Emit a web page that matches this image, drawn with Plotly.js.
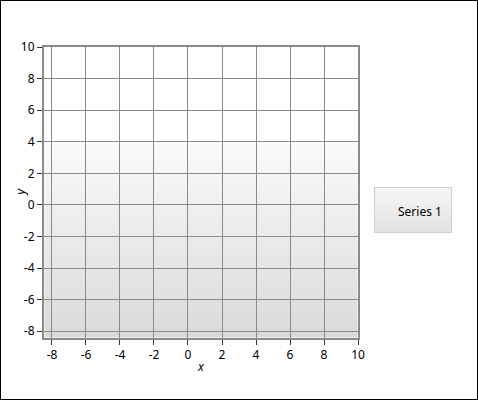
<!DOCTYPE html>
<html><head><meta charset="utf-8">
<script src="https://cdn.plot.ly/plotly-3.0.1.min.js"></script>
<style>
html,body{margin:0;padding:0;background:#fff;}
#wrap{position:relative;width:478px;height:400px;}
#chart{width:478px;height:400px;}
#frame{position:absolute;left:0;top:0;width:478px;height:400px;box-sizing:border-box;border:1px solid #000;pointer-events:none;}
</style></head>
<body>
<div id="wrap"><div id="chart"></div><div id="frame"></div></div>
<script>
// Data (the single series has no visible points in the reference)
var seriesName = 'Series 1';
var seriesX = [null];
var seriesY = [null];
// Axis ticks
var xTickVals = [-8, -6, -4, -2, 0, 2, 4, 6, 8, 10];
var xTickText = ['-8', '-6', '-4', '-2', '0', '2', '4', '6', '8', '10'];
var yTickVals = [-8, -6, -4, -2, 0, 2, 4, 6, 8, 10];
var yTickText = ['-8', '-6', '-4', '-2', '0', '2', '4', '6', '8', '10'];
var xRange = [-8.47, 10];
var yRange = [-8.43, 10];
var xTitle = 'x';
var yTitle = 'y';

function svgUri(w, h, stops, stroke) {
  var s = '<svg xmlns="http://www.w3.org/2000/svg" width="' + w + '" height="' + h + '" viewBox="0 0 ' + w + ' ' + h + '" preserveAspectRatio="none">' +
    '<defs><linearGradient id="g" x1="0" y1="0" x2="0" y2="1">' +
    stops.map(function (st) { return '<stop offset="' + st[0] + '" stop-color="' + st[1] + '"/>'; }).join('') +
    '</linearGradient></defs>' +
    '<rect x="0.5" y="0.5" width="' + (w - 1) + '" height="' + (h - 1) + '" fill="url(#g)"' +
    (stroke ? ' stroke="' + stroke + '" stroke-width="1"' : '') + '/></svg>';
  return 'data:image/svg+xml;charset=utf-8,' + encodeURIComponent(s);
}

var L = 44, R = 358, T = 47, B = 338;
var pw = R - L, ph = B - T;
var plotBg = svgUri(pw, ph, [[0, '#ffffff'], [0.33, '#ffffff'], [0.335, '#fafafa'], [1, '#dadada']], null);
var legBox = {x0: 374, y0: 187, x1: 452, y1: 233};
var legBg = svgUri(legBox.x1 - legBox.x0, legBox.y1 - legBox.y0, [[0, '#f6f6f6'], [1, '#e2e2e2']], '#d0d0d0');

var font = 'Noto Sans, Open Sans, sans-serif';

var data = [{
  type: 'scatter', mode: 'lines', name: seriesName,
  x: seriesX, y: seriesY,
  line: {color: 'rgba(0,0,0,0)', width: 0},
  showlegend: true
}];

var layout = {
  width: 478, height: 400,
  margin: {l: L, r: 478 - R, t: T, b: 400 - B, pad: 0},
  paper_bgcolor: '#ffffff',
  plot_bgcolor: 'rgba(0,0,0,0)',
  font: {family: font, size: 12, color: '#000'},
  showlegend: true,
  legend: {
    x: (legBox.x0 - 16 - L) / pw, y: (B - (legBox.y0 + legBox.y1) / 2 - 1) / ph,
    xanchor: 'left', yanchor: 'middle',
    bgcolor: 'rgba(0,0,0,0)', borderwidth: 0,
    font: {family: font, size: 12, color: '#000'},
    itemwidth: 30
  },
  xaxis: {
    range: xRange, tickmode: 'array', tickvals: xTickVals, ticktext: xTickText,
    showgrid: true, gridcolor: '#8a8a8a', gridwidth: 1,
    zeroline: false,
    showline: true, linecolor: '#8a8a8a', linewidth: 2, mirror: true,
    ticks: 'outside', ticklen: 5, tickcolor: '#333', tickwidth: 1,
    tickfont: {family: font, size: 12, color: '#000'},
    fixedrange: true
  },
  yaxis: {
    range: yRange, tickmode: 'array', tickvals: yTickVals, ticktext: yTickText,
    showgrid: true, gridcolor: '#8a8a8a', gridwidth: 1,
    zeroline: false,
    showline: true, linecolor: '#8a8a8a', linewidth: 2, mirror: true,
    ticks: 'outside', ticklen: 5, tickcolor: '#333', tickwidth: 1,
    tickfont: {family: font, size: 12, color: '#000'},
    fixedrange: true
  },
  annotations: [
    {text: '<i>' + xTitle + '</i>', xref: 'paper', yref: 'paper', x: 0.5, y: (B - 366) / ph,
     xanchor: 'center', yanchor: 'middle', showarrow: false, font: {family: font, size: 12, color: '#000'}},
    {text: '<i>' + yTitle + '</i>', xref: 'paper', yref: 'paper', x: (20 - L) / pw, y: 0.5,
     xanchor: 'center', yanchor: 'middle', showarrow: false, textangle: -90, font: {family: font, size: 12, color: '#000'}}
  ],
  images: [
    {source: plotBg, xref: 'paper', yref: 'paper', x: 0, y: 1, sizex: 1, sizey: 1,
     xanchor: 'left', yanchor: 'top', sizing: 'stretch', layer: 'below'},
    {source: legBg, xref: 'paper', yref: 'paper',
     x: (legBox.x0 - L) / pw, y: (B - legBox.y0) / ph,
     sizex: (legBox.x1 - legBox.x0) / pw, sizey: (legBox.y1 - legBox.y0) / ph,
     xanchor: 'left', yanchor: 'top', sizing: 'stretch', layer: 'below'}
  ]
};

Plotly.newPlot('chart', data, layout, {displayModeBar: false, staticPlot: true});
</script>
</body></html>
